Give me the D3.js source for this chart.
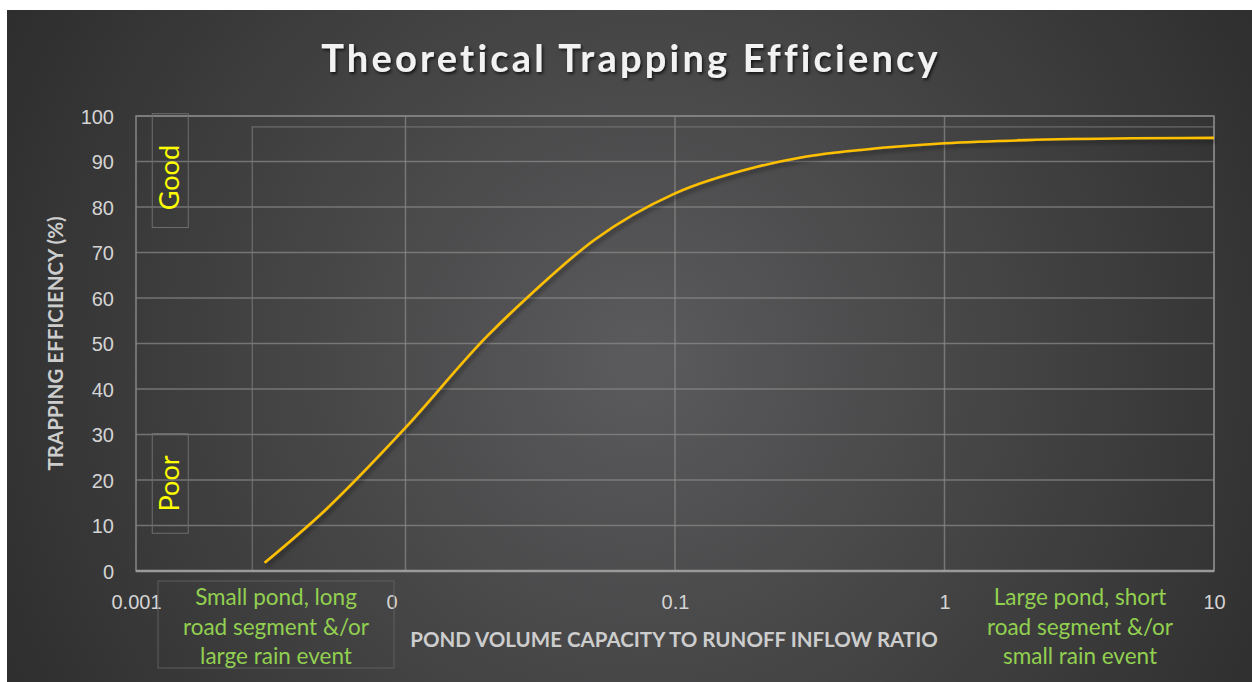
<!DOCTYPE html>
<html lang="en">
<head>
  <meta charset="UTF-8">
  <title>Theoretical Trapping Efficiency</title>
  <script src="https://cdn.jsdelivr.net/npm/d3@7"></script>
  <style>
    body { margin: 0; background: #fff; }
    svg { display: block; font-family: Lato, "Open Sans", sans-serif; }
    .tick text { fill: #d4d4d4; font-size: 20px; }
    .axis-title { fill: #cdcdcd; font-weight: bold; font-size: 20.5px; text-anchor: middle; }
    .note { fill: #92d050; font-size: 22.5px; text-anchor: middle; }
    .rating { fill: #ffff00; font-size: 27px; text-anchor: middle; }
  </style>
</head>
<body>
  <svg width="1252" height="682"></svg>
  <script>
    // ratio values and trapping efficiency (%)
    var ratios = [0.003, 0.005, 0.01, 0.02, 0.03, 0.05, 0.1, 0.2, 0.3, 0.5, 1, 2, 5, 10];
    var efficiency = [1.8, 13.2, 31.5, 51.5, 61.5, 72.7, 83, 88.8, 91, 92.6, 94, 94.7, 95.1, 95.2];
    var xTicks = [0.001, 0.01, 0.1, 1, 10];
    var xTickLabels = ['0.001', '0.01', '0.1', '1', '10'];
    var yTicks = [0, 10, 20, 30, 40, 50, 60, 70, 80, 90, 100];
    var smallNote = ['Small pond, long', 'road segment &/or', 'large rain event'];
    var largeNote = ['Large pond, short', 'road segment &/or', 'small rain event'];

    var svg = d3.select('svg');
    var margin = {top: 116, right: 38, bottom: 111, left: 136};
    var width = svg.attr('width') - margin.left - margin.right;
    var height = svg.attr('height') - margin.top - margin.bottom;

    var defs = svg.append('defs');
    var grad = defs.append('radialGradient')
      .attr('id', 'bg')
      .attr('gradientUnits', 'userSpaceOnUse')
      .attr('cx', 640).attr('cy', 360).attr('r', 760);
    grad.append('stop').attr('offset', '0').attr('stop-color', '#5b5b5d');
    grad.append('stop').attr('offset', '1').attr('stop-color', '#2b2b2b');

    var shadow = defs.append('filter').attr('id', 'shadow')
      .attr('x', '-10%').attr('y', '-10%').attr('width', '130%').attr('height', '130%');
    shadow.append('feDropShadow')
      .attr('dx', 2).attr('dy', 3).attr('stdDeviation', 2)
      .attr('flood-color', '#000').attr('flood-opacity', 0.45);

    var tshadow = defs.append('filter').attr('id', 'tshadow')
      .attr('x', '-10%').attr('y', '-30%').attr('width', '120%').attr('height', '160%');
    tshadow.append('feDropShadow')
      .attr('dx', 1.5).attr('dy', 2).attr('stdDeviation', 1.5)
      .attr('flood-color', '#000').attr('flood-opacity', 0.7);

    svg.append('rect')
      .attr('x', 7).attr('y', 10)
      .attr('width', 1245).attr('height', 672)
      .attr('fill', 'url(#bg)');

    svg.append('text')
      .attr('x', 631).attr('y', 72)
      .attr('text-anchor', 'middle')
      .attr('fill', '#f2f2f2')
      .attr('font-size', 38)
      .attr('font-weight', 'bold')
      .attr('letter-spacing', 3.2)
      .attr('filter', 'url(#tshadow)')
      .text('Theoretical Trapping Efficiency');

    var chart = svg.append('g')
      .attr('transform', 'translate(' + margin.left + ',' + margin.top + ')');

    var xScale = d3.scaleLog().domain([0.001, 10]).range([0, width]);
    var yScale = d3.scaleLinear().domain([0, 100]).range([height, 0]);

    // gridlines
    chart.append('g')
      .selectAll('line')
      .data(yTicks)
      .enter()
      .append('line')
      .attr('x1', 0).attr('x2', width)
      .attr('y1', function(d) { return yScale(d); })
      .attr('y2', function(d) { return yScale(d); })
      .attr('stroke', '#8c8c8c')
      .attr('stroke-opacity', 0.7)
      .attr('stroke-width', 1.5);

    chart.append('g')
      .selectAll('line')
      .data(xTicks.slice(1))
      .enter()
      .append('line')
      .attr('x1', function(d) { return xScale(d); })
      .attr('x2', function(d) { return xScale(d); })
      .attr('y1', 0).attr('y2', height)
      .attr('stroke', '#8c8c8c')
      .attr('stroke-opacity', 0.7)
      .attr('stroke-width', 1.5);

    // faint inner frame left over in the original chart
    chart.append('rect')
      .attr('x', xScale(0.0027)).attr('y', yScale(97.6))
      .attr('width', width - xScale(0.0027))
      .attr('height', height - yScale(97.6))
      .attr('fill', 'none')
      .attr('stroke', '#777')
      .attr('stroke-width', 1);

    // plot frame
    chart.append('rect')
      .attr('x', 0).attr('y', 0)
      .attr('width', width).attr('height', height)
      .attr('fill', 'none')
      .attr('stroke', '#858585')
      .attr('stroke-width', 1.5);
    chart.append('line')
      .attr('x1', 0).attr('x2', width)
      .attr('y1', height).attr('y2', height)
      .attr('stroke', '#9a9a9a')
      .attr('stroke-width', 2.5);

    // axes
    var xAxis = chart.append('g')
      .attr('transform', 'translate(0,' + height + ')')
      .call(d3.axisBottom(xScale)
        .tickValues(xTicks)
        .tickSize(0)
        .tickPadding(24)
        .tickFormat(function(d, i) { return xTickLabels[i]; }));
    xAxis.select('.domain').remove();
    xAxis.selectAll('.tick text')
      .attr('fill', null)
      .filter(function(d) { return d === 0.01; })
      .text('0')
      .append('tspan')
      .attr('fill-opacity', 0)
      .text('.01');

    var yAxis = chart.append('g')
      .call(d3.axisLeft(yScale)
        .tickValues(yTicks)
        .tickSize(0)
        .tickPadding(22));
    yAxis.select('.domain').remove();
    yAxis.selectAll('.tick text').attr('fill', null).attr('dy', '0.36em');

    svg.append('text')
      .attr('class', 'axis-title')
      .attr('transform', 'translate(63,' + (margin.top + height / 2) + ') rotate(-90)')
      .text('TRAPPING EFFICIENCY (%)');

    svg.append('text')
      .attr('class', 'axis-title')
      .attr('x', 674).attr('y', 647)
      .text('POND VOLUME CAPACITY TO RUNOFF INFLOW RATIO');

    // curve
    var points = ratios.map(function(r, i) { return {x: r, y: efficiency[i]}; });
    chart.append('path')
      .datum(points)
      .attr('fill', 'none')
      .attr('stroke', '#ffc000')
      .attr('stroke-width', 2.6)
      .attr('filter', 'url(#shadow)')
      .attr('d', d3.line()
        .curve(d3.curveMonotoneX)
        .x(function(d) { return xScale(d.x); })
        .y(function(d) { return yScale(d.y); }));

    // Good / Poor labels
    var ratings = [
      {label: 'Good', top: 100.5, bottom: 75.5, x: 0.00134, shift: 7},
      {label: 'Poor', top: 30.2, bottom: 8.3, x: 0.00134, shift: 0}
    ];
    var rg = chart.selectAll('.rating-g')
      .data(ratings)
      .enter()
      .append('g');
    rg.append('rect')
      .attr('x', function(d) { return xScale(d.x) - 18; })
      .attr('y', function(d) { return yScale(d.top); })
      .attr('width', 36)
      .attr('height', function(d) { return yScale(d.bottom) - yScale(d.top); })
      .attr('fill', 'none')
      .attr('stroke', '#6e6e6e')
      .attr('stroke-width', 1);
    rg.append('text')
      .attr('class', 'rating')
      .attr('transform', function(d) {
        var cy = (yScale(d.top) + yScale(d.bottom)) / 2 + d.shift;
        return 'translate(' + (xScale(d.x) + 9) + ',' + cy + ') rotate(-90)';
      })
      .text(function(d) { return d.label; });

    // annotations under the x axis
    svg.append('rect')
      .attr('x', 158).attr('y', 581)
      .attr('width', 236).attr('height', 87)
      .attr('fill', 'none')
      .attr('stroke', '#5e5e5e')
      .attr('stroke-width', 1);

    svg.append('text')
      .attr('class', 'note')
      .selectAll('tspan')
      .data(smallNote)
      .enter()
      .append('tspan')
      .attr('x', 276)
      .attr('y', function(d, i) { return 605 + i * 29.5; })
      .text(function(d) { return d; });

    svg.append('text')
      .attr('class', 'note')
      .selectAll('tspan')
      .data(largeNote)
      .enter()
      .append('tspan')
      .attr('x', 1080)
      .attr('y', function(d, i) { return 605 + i * 29.5; })
      .text(function(d) { return d; });
  </script>
</body>
</html>
